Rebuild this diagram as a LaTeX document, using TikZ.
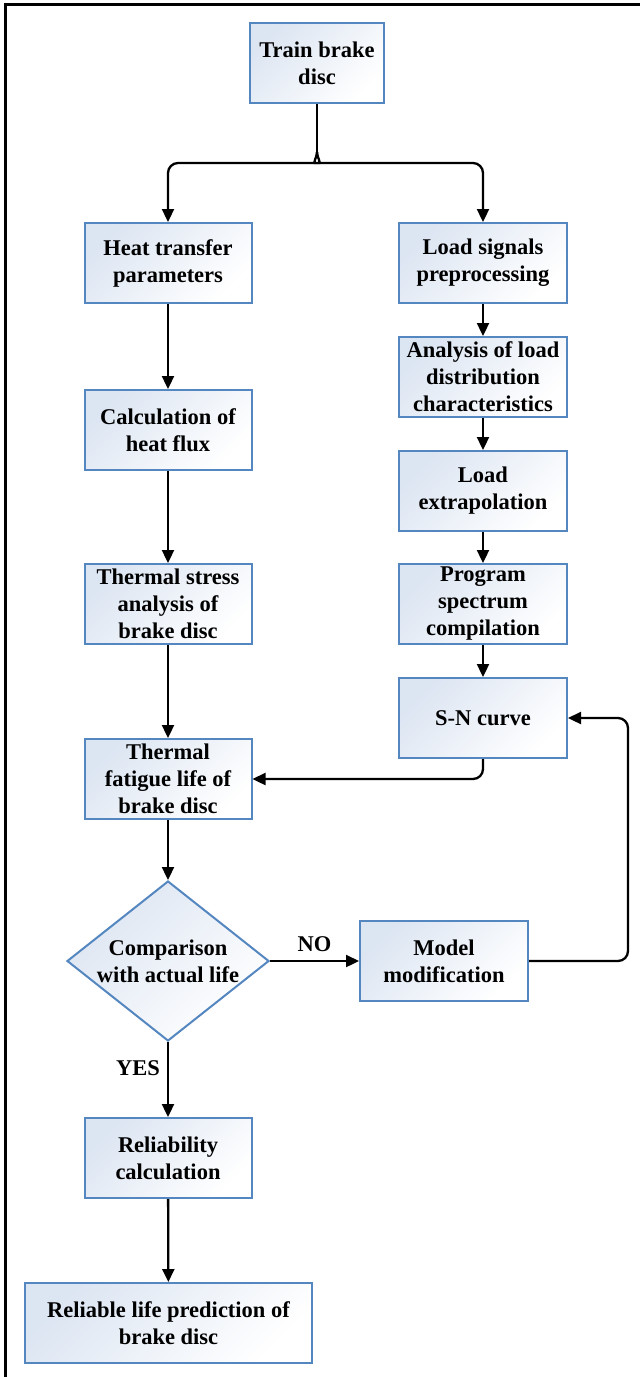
\documentclass[tikz,border=0pt]{standalone}
\usepackage{fontspec}
\setmainfont{Liberation Serif}
\usetikzlibrary{shapes.geometric,arrows.meta}
\definecolor{boxblue}{RGB}{84,134,192}
\definecolor{shadeblue}{RGB}{220,229,242}
\tikzset{
  box/.style={draw=boxblue, line width=2pt, top color=shadeblue, bottom color=white, shading angle=45,
    minimum width=167pt, minimum height=80pt, inner sep=0pt, align=center,
    font=\bfseries\fontsize{22.5}{27}\selectfont},
  decision/.style={diamond, aspect=1.27, draw=boxblue, line width=2pt, top color=shadeblue, bottom color=white, shading angle=45,
    minimum width=202pt, minimum height=160pt, inner sep=0pt, align=center,
    font=\bfseries\fontsize{22.5}{27}\selectfont},
  conn/.style={line width=2.3pt, draw=black},
  arr/.style={conn, -{Triangle[length=13pt,width=12pt]}},
  lbl/.style={font=\bfseries\fontsize{22.5}{27}\selectfont, inner sep=0pt},
}
\begin{document}
\begin{tikzpicture}[x=1pt,y=-1pt]
\useasboundingbox (0,0) rectangle (640,1377);
\draw[line width=3pt] (5,1377) -- (5,4) -- (640,4);

\node[box, minimum width=134pt] (train) at (317,63) {Train brake\\disc};
\node[box] (heat) at (168,263) {Heat transfer\\parameters};
\node[box] (calc) at (168,430) {Calculation of\\heat flux};
\node[box] (stress) at (168,604) {Thermal stress\\analysis of\\brake disc};
\node[box] (fatigue) at (168,779) {Thermal\\fatigue life of\\brake disc};
\node[decision] (cmp) at (168,961) {Comparison\\with actual life};
\node[box] (rel) at (168,1158) {Reliability\\calculation};
\node[box, minimum width=287pt] (life) at (168.5,1323) {Reliable life prediction of\\brake disc};

\node[box, minimum width=168pt] (load) at (483,263) {Load signals\\preprocessing};
\node[box, minimum width=168pt] (ana) at (483,377) {Analysis of load\\distribution\\characteristics};
\node[box, minimum width=168pt] (ext) at (483,491) {Load\\extrapolation};
\node[box, minimum width=168pt] (prog) at (483,604) {Program\\spectrum\\compilation};
\node[box, minimum width=168pt] (sn) at (483,718) {S-N curve};
\node[box, minimum width=168pt] (model) at (444,961) {Model\\modification};

\coordinate (j) at (317,152);
\coordinate (mr) at (628,961);

\draw[conn] (train.south) -- (j);
\draw[arr, rounded corners=10pt] (j) .. controls (317,158) and (312,163) .. (306,163) -| (heat.north);
\draw[arr, rounded corners=10pt] (j) .. controls (317,158) and (322,163) .. (328,163) -| (load.north);

\draw[arr] (heat) -- (calc);
\draw[arr] (calc) -- (stress);
\draw[arr] (stress) -- (fatigue);
\draw[arr] (fatigue) -- (cmp);
\draw[arr] (cmp) -- node[lbl, pos=0.35, left=7pt] {YES} (rel);
\draw[arr] (rel) -- (life);

\draw[arr] (load) -- (ana);
\draw[arr] (ana) -- (ext);
\draw[arr] (ext) -- (prog);
\draw[arr] (prog) -- (sn);
\draw[arr, rounded corners=10pt] (sn.south) |- (fatigue.east);

\draw[arr] (cmp.east) -- node[lbl, above=8pt, pos=0.5] {NO} (model.west);
\draw[arr, rounded corners=10pt] (model.east) -- (mr) |- (sn.east);
\end{tikzpicture}
\end{document}
